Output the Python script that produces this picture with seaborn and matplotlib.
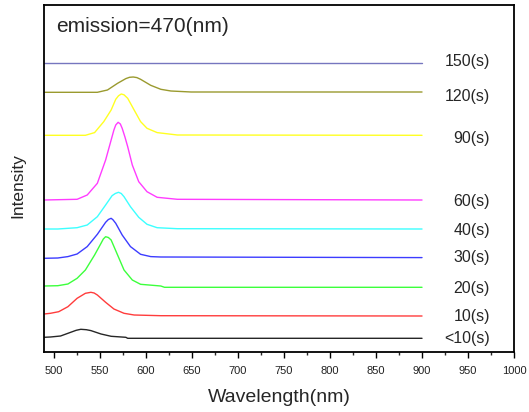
import matplotlib
matplotlib.use("Agg")
import matplotlib.pyplot as plt
from matplotlib.ticker import MultipleLocator
import seaborn as sns
import pandas as pd

# Emission spectra recorded at increasing times, stacked with vertical offsets
series_labels = ["150(s)", "120(s)", "90(s)", "60(s)", "40(s)", "30(s)", "20(s)", "10(s)", "<10(s)"]
series_colors = ["#7676bf", "#9a9a2e", "#ffff22", "#ff3cff", "#3cffff", "#3c3cff", "#3cff3c", "#ff3c3c", "#262626"]
offsets = [289.3, 259.7, 216.7, 152.0, 123.0, 93.7, 66.0, 38.0, 14.7]

wl_150 = [489, 900]
int_150 = [0, 0]

wl_120 = [489, 547, 558, 569, 578, 582, 586, 590, 594, 605, 616, 627, 649, 900]
int_120 = [0, 0, 2.3, 9, 13.7, 15, 15.3, 14.7, 13, 7, 3, 1.3, 0.3, 0.3]

wl_90 = [489, 534, 544, 554, 562, 567, 570, 573, 576, 580, 587, 594, 601, 612, 634, 900]
int_90 = [0, 0, 2.7, 13.7, 25.3, 36, 39.5, 41.3, 40.5, 37, 25.3, 13.7, 7, 2.7, 0.3, 0]

wl_60 = [489, 525, 536, 547, 556, 562, 565, 567, 569.6, 572, 574, 577, 580, 585, 592, 601, 612, 634, 900]
int_60 = [0, 0.7, 5, 16.7, 40, 60, 70, 75, 77.7, 76, 71.7, 63, 53.3, 35, 18.3, 8.3, 2.7, 0.7, 0]

wl_40 = [489, 504, 525, 536, 547, 556, 563, 566.5, 570, 573, 576, 583, 592, 601, 612, 634, 900]
int_40 = [0, 0, 1.3, 4, 12.3, 24, 33.3, 35.5, 36.7, 35.5, 32.3, 22.3, 11.7, 4.7, 1.3, 0.3, 0]

wl_30 = [489, 504, 515, 525, 536, 547, 556, 559, 562, 564, 567, 574, 583, 594, 605, 616, 900]
int_30 = [0, 0.3, 1.7, 4.3, 11.7, 24, 36, 38.8, 40, 38.5, 35, 23.3, 11.7, 4, 1.7, 1.3, 0.7]

wl_20 = [489, 504, 515, 525, 534, 544, 551, 553.5, 556, 559, 562, 569, 576, 585, 594, 616, 620, 900]
int_20 = [0, 0.3, 2, 7.7, 16, 31, 42.7, 47, 49.3, 48.5, 46, 31, 16, 6, 1.7, 0, -1.3, -1.3]

wl_10 = [489, 496, 505, 515, 525, 534, 540, 543.5, 547, 556, 565, 576, 587, 616, 900]
int_10 = [0, 0.7, 2.3, 7.3, 15.7, 20.7, 21.7, 21, 19, 11.7, 5, 0.7, -1, -1.7, -2]

wl_0 = [489, 496, 507, 518, 524, 529, 535, 540, 551, 562, 578, 580, 900]
int_0 = [0, 0.3, 1.3, 5, 7, 8, 7.6, 6.7, 3.3, 1, 0, -1, -1]

wavelengths = [wl_150, wl_120, wl_90, wl_60, wl_40, wl_30, wl_20, wl_10, wl_0]
intensities = [int_150, int_120, int_90, int_60, int_40, int_30, int_20, int_10, int_0]

label_y = [290.3, 255.3, 213.7, 150.3, 121.3, 94.7, 63.7, 36.0, 13.7]
annotation = "emission=470(nm)"

sns.set_style("white")
plt.rcParams["font.family"] = ["Liberation Sans", "DejaVu Sans"]

W, H = 529, 412
fig = plt.figure(figsize=(W / 100, H / 100), dpi=100)
left, right, top, bottom = 44, 514, 5, 352
ax = fig.add_axes([left / W, (H - bottom) / H, (right - left) / W, (bottom - top) / H])

for lab, col, off, wl, inten in zip(series_labels, series_colors, offsets, wavelengths, intensities):
    df = pd.DataFrame({"Wavelength": wl, "Intensity": [v + off for v in inten]})
    sns.lineplot(data=df, x="Wavelength", y="Intensity", ax=ax, color=col,
                 linewidth=1.0, sort=False, estimator=None)

for lab, y in zip(series_labels, label_y):
    ax.text(974, y, lab, ha="right", va="center", fontsize=11.5)

ax.text(0.0255, 0.9375, annotation, transform=ax.transAxes, ha="left", va="center", fontsize=15)

ax.set_xlim(489, 1000)
ax.set_ylim(0, 347)
ax.xaxis.set_major_locator(MultipleLocator(50))
ax.xaxis.set_minor_locator(MultipleLocator(25))
ax.set_yticks([])
ax.tick_params(axis="x", which="major", direction="out", length=4.2, width=1.0,
               labelsize=8, pad=6, bottom=True, colors="black")
ax.tick_params(axis="x", which="minor", direction="out", length=2.4, width=1.0, bottom=True)
ax.tick_params(axis="x", labelcolor="#222222")

for s in ax.spines.values():
    s.set_visible(True)
    s.set_color("black")
    s.set_linewidth(1.3)

ax.set_xlabel("Wavelength(nm)", fontsize=14, va="center")
ax.xaxis.set_label_coords(0.5, (bottom - 397) / (bottom - top))
ax.set_ylabel("Intensity", fontsize=12.5, va="center")
ax.yaxis.set_label_coords((18 - left) / (right - left), (bottom - 186) / (bottom - top))

fig.savefig("out.png", dpi=100)
